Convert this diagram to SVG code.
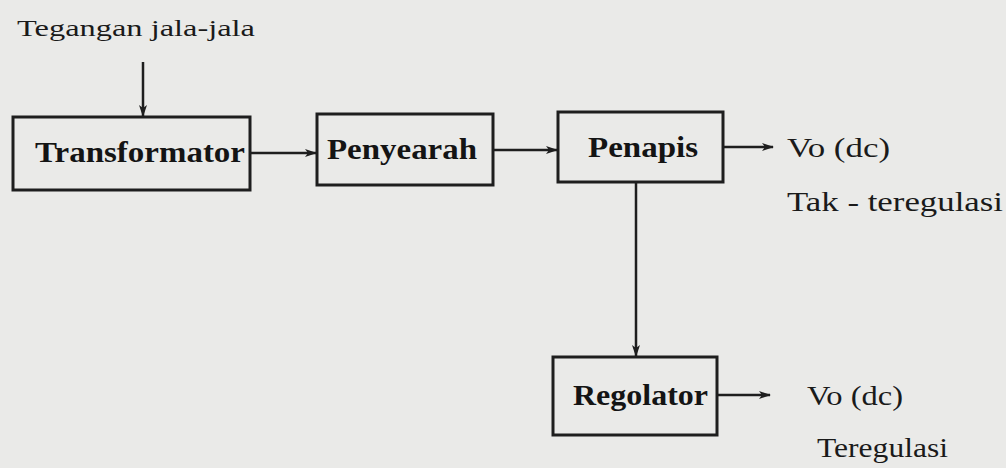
<svg xmlns="http://www.w3.org/2000/svg" width="1006" height="468" viewBox="0 0 1006 468">
<style>
.box{fill:none;stroke:#1e1e1e;stroke-width:3}
.lbl{font-weight:bold;font-size:30px;fill:#141414}
.txt{font-size:28px;fill:#1a1a1a}
.con{stroke:#1e1e1e;stroke-width:2.5;fill:none;marker-end:url(#ah)}
</style>
<defs>
<marker id="ah" markerWidth="12" markerHeight="10" refX="11" refY="5" orient="auto" markerUnits="userSpaceOnUse">
<path d="M0,1 L12,5 L0,9 L3,5 Z" fill="#1e1e1e"/>
</marker>
</defs>
<rect width="1006" height="468" fill="#eaeae8"/>
<g font-family="Liberation Serif, serif">
<text class="txt" x="17" y="36" textLength="238" lengthAdjust="spacingAndGlyphs" style="font-size:24px">Tegangan jala-jala</text>
<g id="transformator">
<rect class="box" x="13" y="117" width="237" height="73"/>
<text class="lbl" x="35" y="162" textLength="210" lengthAdjust="spacingAndGlyphs">Transformator</text>
</g>
<g id="penyearah">
<rect class="box" x="317" y="114" width="176" height="71"/>
<text class="lbl" x="327" y="159" textLength="150" lengthAdjust="spacingAndGlyphs">Penyearah</text>
</g>
<g id="penapis">
<rect class="box" x="558" y="112" width="165" height="70"/>
<text class="lbl" x="588" y="157" textLength="110" lengthAdjust="spacingAndGlyphs">Penapis</text>
</g>
<g id="regolator">
<rect class="box" x="553" y="357" width="164" height="78"/>
<text class="lbl" x="573" y="405" textLength="135" lengthAdjust="spacingAndGlyphs">Regolator</text>
</g>
<g id="outputs">
<text class="txt" x="787" y="157" textLength="103" lengthAdjust="spacingAndGlyphs">Vo (dc)</text>
<text class="txt" x="787" y="211" textLength="216" lengthAdjust="spacingAndGlyphs">Tak - teregulasi</text>
<text class="txt" x="807" y="405" textLength="96" lengthAdjust="spacingAndGlyphs">Vo (dc)</text>
<text class="txt" x="817" y="457" textLength="131" lengthAdjust="spacingAndGlyphs">Teregulasi</text>
</g>
</g>
<g id="connectors">
<line class="con" x1="143" y1="62" x2="143" y2="116"/>
<line class="con" x1="250" y1="153" x2="316" y2="153"/>
<line class="con" x1="493" y1="150" x2="557" y2="150"/>
<line class="con" x1="723" y1="147" x2="773" y2="147"/>
<line class="con" x1="636" y1="182" x2="636" y2="356"/>
<line class="con" x1="717" y1="395" x2="770" y2="395"/>
</g>
</svg>
